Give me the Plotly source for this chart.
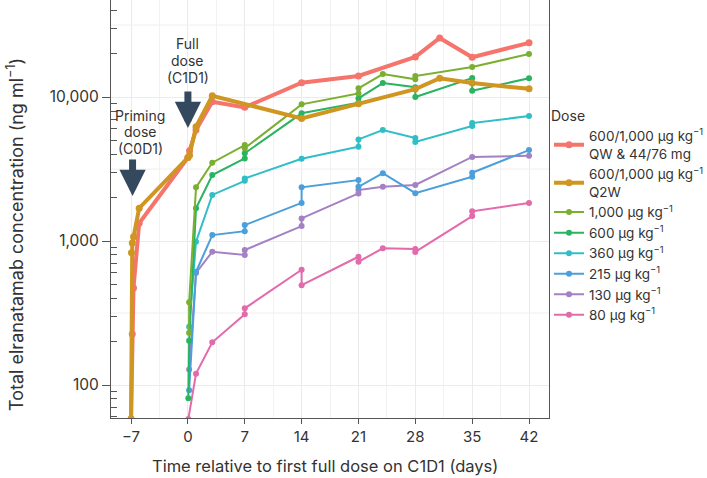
import plotly.graph_objects as go
import numpy as np

# ---------------- data ----------------
series_names = [
    "600/1,000 μg kg<sup>−1</sup><br>QW & 44/76 mg",
    "600/1,000 μg kg<sup>−1</sup><br>Q2W",
    "1,000 μg kg<sup>−1</sup>",
    "600 μg kg<sup>−1</sup>",
    "360 μg kg<sup>−1</sup>",
    "215 μg kg<sup>−1</sup>",
    "130 μg kg<sup>−1</sup>",
    "80 μg kg<sup>−1</sup>",
]
series_colors = ["#F5756C", "#CF9622", "#7BAF31", "#2AB462", "#31BEC6", "#4B9FDB", "#A480C4", "#E36AAB"]
series_widths = [4, 4, 2, 2, 2, 2, 2, 2]

qw_days = [-7, -6.85, -6.7, -6, 0, 0.2, 1, 3, 7, 14, 21, 28, 31, 35, 42]
qw_conc = [58, 226, 472, 1330, 3800, 4240, 5900, 9270, 8480, 12570, 14000, 19000, 25700, 18900, 23800]

q2w_days = [-7, -6.95, -6.85, -6.7, -6, 0, 0.2, 1, 3, 14, 21, 28, 31, 35, 42]
q2w_conc = [58, 830, 970, 1070, 1690, 3800, 3950, 6220, 10200, 7110, 9000, 11360, 13500, 12500, 11400]

d1000_days = [0.15, 0.15, 1, 3, 7, 7, 14, 21, 21, 24, 28, 28, 35, 42]
d1000_conc = [231, 375, 2360, 3500, 4640, 4410, 8900, 10600, 11500, 14450, 13300, 14000, 16150, 19900]

d600_days = [0.05, 0.15, 1, 3, 7, 7, 14, 21, 21, 24, 28, 28, 35, 35, 42]
d600_conc = [81, 203, 1690, 2870, 3750, 4070, 7710, 9130, 9790, 12500, 11700, 10000, 13550, 11060, 13500]

d360_days = [0.15, 1, 3, 7, 7, 14, 21, 21, 24, 28, 28, 35, 35, 42]
d360_conc = [254, 990, 2090, 2620, 2720, 3730, 4520, 5080, 5900, 5190, 4870, 6300, 6600, 7380]

d215_days = [0.15, 1, 3, 7, 7, 14, 14, 21, 21, 24, 28, 35, 35, 42]
d215_conc = [92, 612, 1100, 1170, 1290, 1840, 2360, 2650, 2380, 2960, 2150, 2800, 2980, 4280]

d130_days = [0.15, 1, 3, 7, 7, 14, 14, 21, 21, 24, 28, 35, 42]
d130_conc = [128, 600, 843, 800, 866, 1270, 1435, 2140, 2260, 2380, 2450, 3840, 3910]

d80_days = [0.05, 1, 3, 7, 7, 14, 14, 21, 21, 24, 28, 28, 35, 35, 42]
d80_conc = [58, 120, 198, 310, 341, 632, 494, 778, 718, 890, 880, 840, 1490, 1610, 1835]

series_days = [qw_days, q2w_days, d1000_days, d600_days, d360_days, d215_days, d130_days, d80_days]
series_conc = [qw_conc, q2w_conc, d1000_conc, d600_conc, d360_conc, d215_conc, d130_conc, d80_conc]

x_ticks = [-7, 0, 7, 14, 21, 28, 35, 42]
x_tick_text = ["−7", "0", "7", "14", "21", "28", "35", "42"]
y_ticks = [100, 1000, 10000]
y_tick_text = ["100", "1,000", "10,000"]

priming_lines = ["Priming", "dose", "(C0D1)"]
full_lines = ["Full", "dose", "(C1D1)"]

FONT = "Inter, Roboto, sans-serif"
TXT = "#333333"


def py2log(py):
    # pixel row inside the plot -> log10 concentration
    return 4 - (py - 97) / 144


fig = go.Figure()

# half-decade horizontal gridlines
for gv in [10 ** 2.5, 10 ** 3.5, 10 ** 4.5]:
    fig.add_trace(go.Scatter(x=[-12, 50], y=[gv, gv], mode="lines",
                             line=dict(color="#EFEFEF", width=1),
                             showlegend=False, hoverinfo="skip"))

order = [7, 6, 5, 4, 3, 2, 0, 1]
for i in order:
    fig.add_trace(go.Scatter(
        x=series_days[i], y=series_conc[i], mode="lines+markers",
        name=series_names[i],
        line=dict(color=series_colors[i], width=series_widths[i]),
        marker=dict(color=series_colors[i], size=7 if series_widths[i] > 2 else 6),
        legendrank=i + 1,
    ))

ANN_FONT = dict(family=FONT, size=14, color=TXT)
for txt, py in zip(priming_lines, [115, 131.5, 148]):
    fig.add_annotation(x=-7, y=py2log(py), xref="x", yref="y", xshift=9,
                       text=txt, showarrow=False, font=ANN_FONT)
for txt, py in zip(full_lines, [43, 60, 77]):
    fig.add_annotation(x=0, y=py2log(py), xref="x", yref="y",
                       text=txt, showarrow=False, font=ANN_FONT)

ARROW = "#34495E"
fig.add_annotation(x=-7, y=py2log(196), xref="x", yref="y", text="", xshift=1.5,
                   showarrow=True, ax=0, ay=-38, arrowcolor=ARROW, arrowwidth=7,
                   arrowhead=2, arrowsize=0.75)
fig.add_annotation(x=0, y=py2log(128), xref="x", yref="y", text="",
                   showarrow=True, ax=0, ay=-38, arrowcolor=ARROW, arrowwidth=7,
                   arrowhead=2, arrowsize=0.75)

# axis titles as annotations (positioned like the reference)
fig.add_annotation(x=0, y=(418 - 235) / 418, xref="paper", yref="paper", xshift=15 - 111,
                   text="Total elranatamab concentration (ng ml<sup>−1</sup>)", textangle=-90,
                   showarrow=False, font=dict(family=FONT, size=18, color=TXT),
                   xanchor="center", yanchor="middle")
fig.add_annotation(x=(324.5 - 111) / 438, y=0, xref="paper", yref="paper", yshift=-(466 - 418),
                   text="Time relative to first full dose on C1D1 (days)",
                   showarrow=False, font=dict(family=FONT, size=16.5, color=TXT),
                   xanchor="center", yanchor="middle")

fig.update_layout(
    width=707, height=478,
    margin=dict(l=111, r=158, t=0, b=60, autoexpand=False),
    paper_bgcolor="white", plot_bgcolor="white",
    font=dict(family=FONT, size=14, color=TXT),
    legend=dict(title=dict(text="Dose", font=dict(size=14, color=TXT)),
                x=1.0, xanchor="left", y=0.755, yanchor="top",
                font=dict(size=13.5, color=TXT), tracegroupgap=0, itemwidth=30,
                bgcolor="rgba(0,0,0,0)"),
    xaxis=dict(range=[-9.47, 44.46], tickmode="array", tickvals=x_ticks, ticktext=x_tick_text,
               showgrid=True, gridcolor="#EBEBEB", gridwidth=1, zeroline=False, automargin=False,
               ticks="outside", ticklen=5, tickcolor="#555", tickfont=dict(size=15, color=TXT),
               showline=True, linecolor="#555", linewidth=1, mirror=True,
               minor=dict(tickmode="array", tickvals=[-3.5 + 7 * k for k in range(7)],
                          showgrid=True, gridcolor="#F2F2F2", ticks="")),
    yaxis=dict(type="log", range=[1.771, 4.674], tickmode="array", tickvals=y_ticks,
               ticktext=y_tick_text, showgrid=True, gridcolor="#EBEBEB", zeroline=False,
               automargin=False,
               ticks="outside", ticklen=8, tickcolor="#555", tickfont=dict(size=15.5, color=TXT),
               showline=True, linecolor="#555", linewidth=1, mirror=True,
               minor=dict(tickmode="array",
                          tickvals=[m * 10 ** k for k in [1, 2, 3, 4] for m in range(2, 10)],
                          ticks="inside", ticklen=6, tickcolor="#555", showgrid=False)),
)

fig.write_html("out.html", config={"displayModeBar": False},
               post_script="document.body.style.margin='0';")
